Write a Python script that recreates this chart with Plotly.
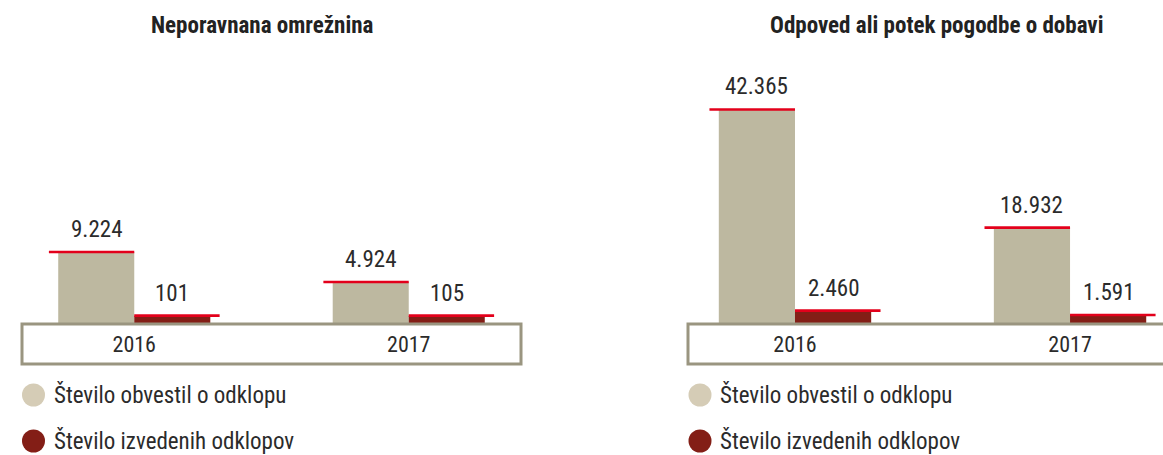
import plotly.graph_objects as go

# ---------------- data ----------------
years = ["2016", "2017"]
left_title = "Neporavnana omrežnina"
right_title = "Odpoved ali potek pogodbe o dobavi"
series_names = ["Število obvestil o odklopu", "Število izvedenih odklopov"]
left_notices = [9224, 4924]
left_disconnects = [101, 105]
right_notices = [42365, 18932]
right_disconnects = [2460, 1591]

# ---------------- style ----------------
W, H = 1163, 455
FONT = "Liberation Sans Narrow, Roboto Condensed, Arial Narrow, Roboto, sans-serif"
TXT = "#2b2b2b"
BEIGE = "#bdb8a0"
BEIGE_LEG = "#d5ccb6"
DARK = "#831e16"
RED = "#e3001b"
BOX = "#9a9580"

BASE_PX = 323     # baseline pixel
TOP_PX = 60       # top of plot area pixel
BOX_BOTTOM_PX = 364
BAR_W = 0.277
LINE_EXT = 0.034

LEFT_FLOOR = -952                 # left axis starts below zero (as in source)
LEFT_PX_PER_UNIT = 0.006977
RIGHT_PX_PER_UNIT = 0.00504


def py(px):
    return 1 - px / H


fig = go.Figure()

panels = [
    dict(xa="x", ya="y", notices=left_notices, disc=left_disconnects, floor=LEFT_FLOOR),
    dict(xa="x2", ya="y2", notices=right_notices, disc=right_disconnects, floor=0),
]

annotations = []
for p in panels:
    xs = list(range(len(years)))
    floor = p["floor"]
    fig.add_trace(go.Bar(
        x=[i - BAR_W / 2 for i in xs], y=[v - floor for v in p["notices"]], base=floor,
        width=BAR_W, marker=dict(color=BEIGE, line=dict(width=0)),
        xaxis=p["xa"], yaxis=p["ya"], showlegend=False, hoverinfo="skip"))
    fig.add_trace(go.Bar(
        x=[i + BAR_W / 2 for i in xs], y=[v - floor for v in p["disc"]], base=floor,
        width=BAR_W, marker=dict(color=DARK, line=dict(width=0)),
        xaxis=p["xa"], yaxis=p["ya"], showlegend=False, hoverinfo="skip"))
    # red cap lines
    lx, ly = [], []
    for i, v in zip(xs, p["notices"]):
        lx += [i - BAR_W - LINE_EXT, i, None]
        ly += [v, v, None]
    for i, v in zip(xs, p["disc"]):
        lx += [i, i + BAR_W + LINE_EXT, None]
        ly += [v, v, None]
    fig.add_trace(go.Scatter(x=lx, y=ly, mode="lines", line=dict(color=RED, width=2.6),
                             xaxis=p["xa"], yaxis=p["ya"], showlegend=False,
                             hoverinfo="skip", cliponaxis=False))
    # value labels
    for i, v in zip(xs, p["notices"]):
        annotations.append(dict(x=i - BAR_W / 2, y=v, xref=p["xa"], yref=p["ya"],
                                text=f"{v:,}".replace(",", "."), showarrow=False,
                                yanchor="bottom", yshift=7,
                                font=dict(family=FONT, size=23, color=TXT)))
    for i, v in zip(xs, p["disc"]):
        annotations.append(dict(x=i + BAR_W / 2, y=v, xref=p["xa"], yref=p["ya"],
                                text=f"{v:,}".replace(",", "."), showarrow=False,
                                yanchor="bottom", yshift=7,
                                font=dict(family=FONT, size=23, color=TXT)))

# titles
for txt, cx in [(left_title, 262), (right_title, 936)]:
    annotations.append(dict(x=cx / W, y=py(25), xref="paper", yref="paper", text=f"<b>{txt}</b>",
                            showarrow=False, xanchor="center", yanchor="middle",
                            font=dict(family=FONT, size=23, color="#222222")))

# legends
shapes = []
for cx, tx in [(33.5, 52), (700, 718)]:
    for name, col, cy in [(series_names[0], BEIGE_LEG, 395), (series_names[1], DARK, 441)]:
        shapes.append(dict(type="circle", xref="paper", yref="paper",
                           xsizemode="pixel", ysizemode="pixel",
                           xanchor=cx / W, yanchor=py(cy),
                           x0=-11.5, x1=11.5, y0=-11.5, y1=11.5,
                           fillcolor=col, line=dict(width=0)))
        annotations.append(dict(x=tx / W, y=py(cy), xref="paper", yref="paper", text=name,
                                showarrow=False, xanchor="left", yanchor="middle",
                                font=dict(family=FONT, size=23, color=TXT)))

# category boxes
for xref, x1 in [("x domain", 1), ("x2 domain", 1.1)]:
    shapes.append(dict(type="rect", xref=xref, yref="paper", x0=0, x1=x1,
                       y0=py(BOX_BOTTOM_PX), y1=py(BASE_PX + 1),
                       line=dict(color=BOX, width=3), fillcolor="rgba(0,0,0,0)", layer="above"))

plot_h = BASE_PX - TOP_PX
ydom = [py(BASE_PX), py(TOP_PX)]
axis_common = dict(showgrid=False, zeroline=False, showline=False, ticks="",
                   fixedrange=True)

fig.update_layout(
    width=W, height=H,
    margin=dict(l=0, r=0, t=0, b=0),
    paper_bgcolor="white", plot_bgcolor="rgba(0,0,0,0)",
    barmode="overlay",
    showlegend=False,
    xaxis=dict(domain=[22 / W, 521 / W], range=[-0.409, 1.409], tickmode="array",
               tickvals=[0, 1], ticktext=years, anchor="y",
               tickfont=dict(family=FONT, size=22, color=TXT), ticklabelstandoff=6,
               **axis_common),
    xaxis2=dict(domain=[688 / W, 1], range=[-0.389, 1.338], tickmode="array",
                tickvals=[0, 1], ticktext=years, anchor="y2",
                tickfont=dict(family=FONT, size=22, color=TXT), ticklabelstandoff=6,
                **axis_common),
    yaxis=dict(domain=ydom, range=[LEFT_FLOOR, LEFT_FLOOR + plot_h / LEFT_PX_PER_UNIT],
               showticklabels=False, anchor="x", **axis_common),
    yaxis2=dict(domain=ydom, range=[0, plot_h / RIGHT_PX_PER_UNIT],
                showticklabels=False, anchor="x2", **axis_common),
    annotations=annotations,
    shapes=shapes,
)

fig.write_html("out.html", config=dict(displayModeBar=False),
               post_script="document.body.style.margin='0px';document.body.style.overflow='hidden';")
